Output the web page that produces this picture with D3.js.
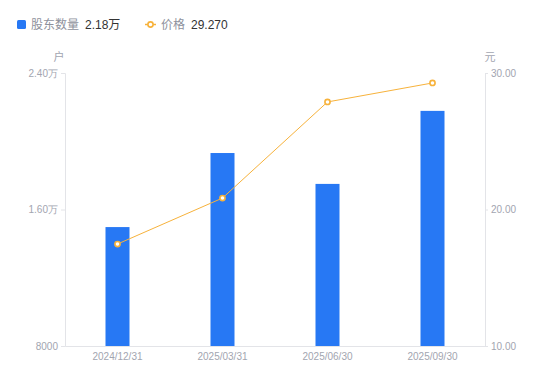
<!DOCTYPE html>
<html>
<head>
<meta charset="utf-8">
<script src="https://d3js.org/d3.v7.min.js"></script>
<style>
  body { margin: 0; background: #fff; font-family: "Liberation Sans", "Noto Sans CJK SC", sans-serif; }
</style>
</head>
<body>
<div id="chart"></div>
<script>
// data
const dates = ["2024/12/31", "2025/03/31", "2025/06/30", "2025/09/30"]
const holders = [14970, 19310, 17500, 21780]   // 股东数量 (户)
const prices = [17.47, 20.84, 27.88, 29.27]     // 价格 (元)
const leftTicks = [8000, 16000, 24000]
const rightTicks = [10, 20, 30]

const w = 550, h = 381
const margin = { top: 73, right: 65, bottom: 35, left: 65 }
const barColor = "#2778f4"
const lineColor = "#f7b23b"
const axisText = "#a2a5b0"
const axisLine = "#e3e4e8"

const svg = d3.select("#chart").append("svg")
    .attr("width", w)
    .attr("height", h)
    .style("font-family", "'Liberation Sans', 'Noto Sans CJK SC', sans-serif")

const x = d3.scaleBand()
    .domain(dates)
    .range([margin.left, w - margin.right])

const yL = d3.scaleLinear()
    .domain([8000, 24000])
    .range([h - margin.bottom, margin.top])

const yR = d3.scaleLinear()
    .domain([10, 30])
    .range([h - margin.bottom, margin.top])

const fmtL = d => d >= 10000 ? (d / 10000).toFixed(2) + "万" : d

// left axis
const gL = svg.append("g")
    .attr("transform", `translate(${margin.left},0)`)
    .call(d3.axisLeft(yL).tickValues(leftTicks).tickFormat(fmtL).tickSize(4).tickPadding(3))
gL.select(".domain").attr("stroke", axisLine)
gL.selectAll(".tick line").attr("stroke", axisLine)
gL.selectAll("text").attr("fill", axisText).style("font-size", "10px")

// right axis
const gR = svg.append("g")
    .attr("transform", `translate(${w - margin.right},0)`)
    .call(d3.axisRight(yR).tickValues(rightTicks).tickFormat(d => d.toFixed(2)).tickSize(3).tickPadding(3))
gR.select(".domain").attr("stroke", axisLine)
gR.selectAll(".tick line").attr("stroke", axisLine)
gR.selectAll("text").attr("fill", axisText).style("font-size", "10px")

// x axis
const gX = svg.append("g")
    .attr("transform", `translate(0,${h - margin.bottom})`)
    .call(d3.axisBottom(x).tickSize(0).tickPadding(7))
gX.select(".domain").attr("stroke", axisLine)
gX.selectAll("text").attr("fill", axisText).style("font-size", "10px")

// units
svg.append("text").text("户")
    .attr("x", 59).attr("y", 61)
    .attr("text-anchor", "middle")
    .attr("fill", axisText).style("font-size", "11px")
svg.append("text").text("元")
    .attr("x", 490).attr("y", 61)
    .attr("text-anchor", "middle")
    .attr("fill", axisText).style("font-size", "11px")

// bars
const bw = 24
svg.selectAll("rect.bar")
    .data(holders)
    .enter()
    .append("rect")
    .attr("class", "bar")
    .attr("x", (d, i) => x(dates[i]) + x.bandwidth() / 2 - bw / 2)
    .attr("y", d => yL(d))
    .attr("width", bw)
    .attr("height", d => yL(8000) - yL(d))
    .attr("fill", barColor)

// line
const line = d3.line()
    .x((d, i) => x(dates[i]) + x.bandwidth() / 2)
    .y(d => yR(d))

svg.append("path")
    .datum(prices)
    .attr("d", line)
    .attr("fill", "none")
    .attr("stroke", lineColor)
    .attr("stroke-width", 1)

svg.selectAll("circle.pt")
    .data(prices)
    .enter()
    .append("circle")
    .attr("class", "pt")
    .attr("cx", (d, i) => x(dates[i]) + x.bandwidth() / 2)
    .attr("cy", d => yR(d))
    .attr("r", 2.6)
    .attr("fill", "#fff")
    .attr("stroke", lineColor)
    .attr("stroke-width", 1.6)

// legend
const lg = svg.append("g")
lg.append("rect")
    .attr("x", 17).attr("y", 20).attr("width", 9).attr("height", 9).attr("rx", 1.5)
    .attr("fill", barColor)
lg.append("text").text("股东数量")
    .attr("x", 31).attr("y", 29)
    .attr("fill", "#8e919c").style("font-size", "12px")
lg.append("text").text("2.18万")
    .attr("x", 85).attr("y", 29)
    .attr("fill", "#333").style("font-size", "12px")

lg.append("line")
    .attr("x1", 145).attr("x2", 156).attr("y1", 24.5).attr("y2", 24.5)
    .attr("stroke", lineColor).attr("stroke-width", 1.5)
lg.append("circle")
    .attr("cx", 150.5).attr("cy", 24.5).attr("r", 2.6)
    .attr("fill", "#fff").attr("stroke", lineColor).attr("stroke-width", 1.6)
lg.append("text").text("价格")
    .attr("x", 161).attr("y", 29)
    .attr("fill", "#8e919c").style("font-size", "12px")
lg.append("text").text("29.270")
    .attr("x", 191).attr("y", 29)
    .attr("fill", "#333").style("font-size", "12px")
</script>
</body>
</html>
